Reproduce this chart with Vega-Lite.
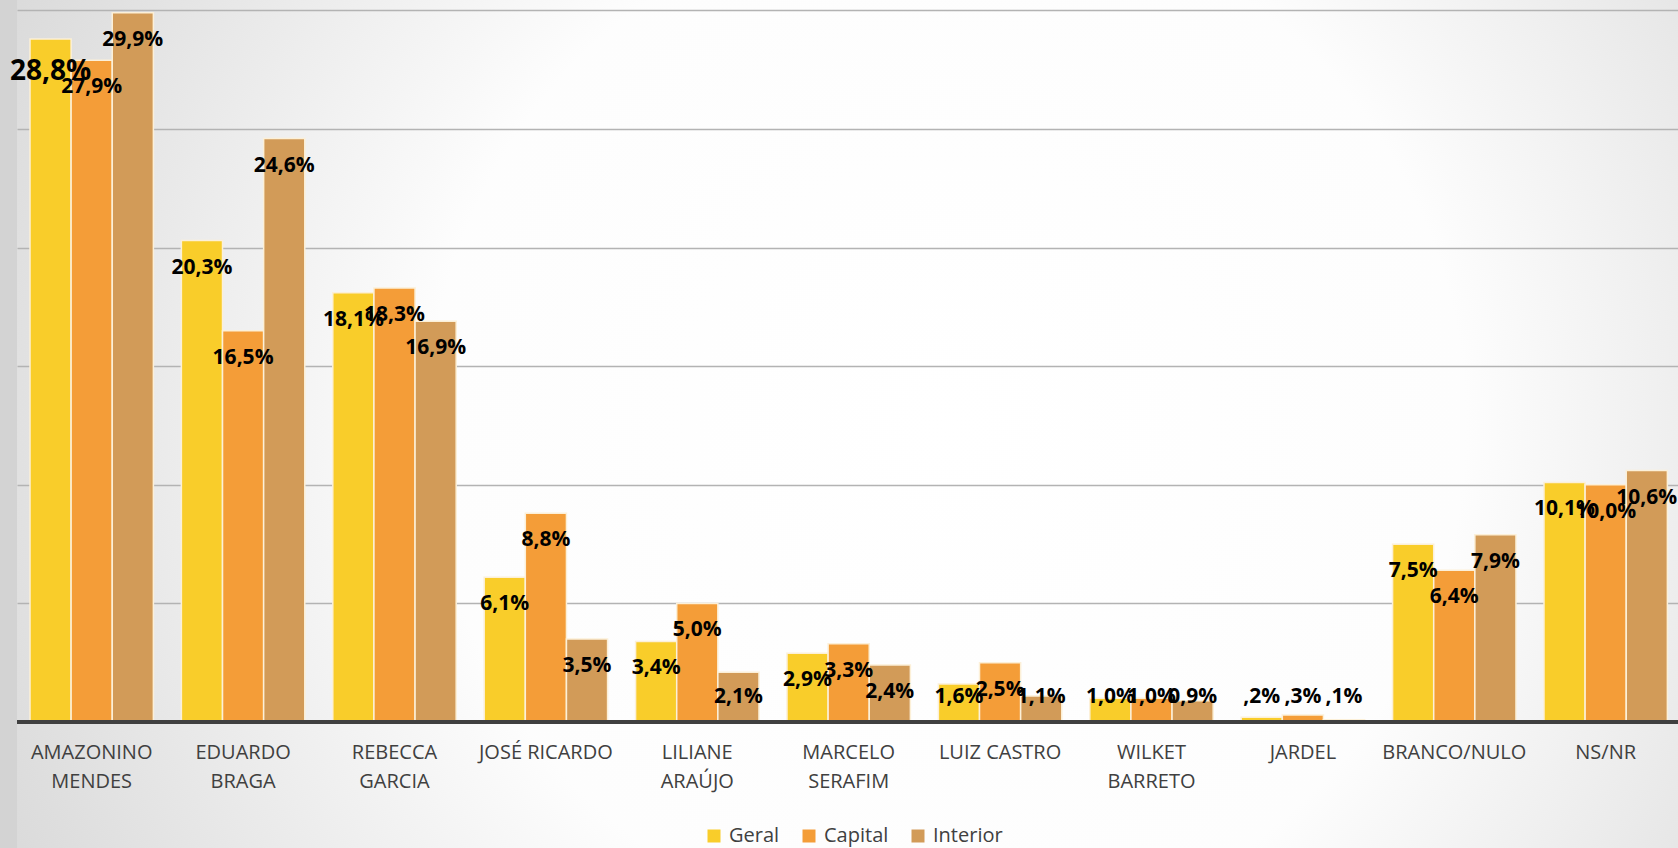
{
  "$schema": "https://vega.github.io/schema/vega-lite/v6.json",
  "width": 1661,
  "height": 848,
  "autosize": {"type": "none"},
  "padding": {"left": 17, "top": 0, "right": 0, "bottom": 0},
  "background": "#d3d3d3",
  "config": {
    "view": {
      "stroke": null,
      "fill": {
        "gradient": "radial",
        "x1": 0.56, "y1": 0.5, "r1": 0,
        "x2": 0.56, "y2": 0.5, "r2": 0.78,
        "stops": [
          {"offset": 0, "color": "#ffffff"},
          {"offset": 0.4, "color": "#fdfdfd"},
          {"offset": 0.75, "color": "#dedede"},
          {"offset": 1, "color": "#c9c9c9"}
        ]
      }
    },
    "axisY": {"minExtent": 0},
    "axisX": {"minExtent": 0},
    "font": "Open Sans"
  },
  "data": {
    "values": [
      {"c": "AMAZONINO MENDES", "s": "Geral", "v": 28.8, "label": "28,8%"},
      {"c": "AMAZONINO MENDES", "s": "Capital", "v": 27.9, "label": "27,9%"},
      {"c": "AMAZONINO MENDES", "s": "Interior", "v": 29.9, "label": "29,9%"},
      {"c": "EDUARDO BRAGA", "s": "Geral", "v": 20.3, "label": "20,3%"},
      {"c": "EDUARDO BRAGA", "s": "Capital", "v": 16.5, "label": "16,5%"},
      {"c": "EDUARDO BRAGA", "s": "Interior", "v": 24.6, "label": "24,6%"},
      {"c": "REBECCA GARCIA", "s": "Geral", "v": 18.1, "label": "18,1%"},
      {"c": "REBECCA GARCIA", "s": "Capital", "v": 18.3, "label": "18,3%"},
      {"c": "REBECCA GARCIA", "s": "Interior", "v": 16.9, "label": "16,9%"},
      {"c": "JOSÉ RICARDO", "s": "Geral", "v": 6.1, "label": "6,1%"},
      {"c": "JOSÉ RICARDO", "s": "Capital", "v": 8.8, "label": "8,8%"},
      {"c": "JOSÉ RICARDO", "s": "Interior", "v": 3.5, "label": "3,5%"},
      {"c": "LILIANE ARAÚJO", "s": "Geral", "v": 3.4, "label": "3,4%"},
      {"c": "LILIANE ARAÚJO", "s": "Capital", "v": 5.0, "label": "5,0%"},
      {"c": "LILIANE ARAÚJO", "s": "Interior", "v": 2.1, "label": "2,1%"},
      {"c": "MARCELO SERAFIM", "s": "Geral", "v": 2.9, "label": "2,9%"},
      {"c": "MARCELO SERAFIM", "s": "Capital", "v": 3.3, "label": "3,3%"},
      {"c": "MARCELO SERAFIM", "s": "Interior", "v": 2.4, "label": "2,4%"},
      {"c": "LUIZ CASTRO", "s": "Geral", "v": 1.6, "label": "1,6%"},
      {"c": "LUIZ CASTRO", "s": "Capital", "v": 2.5, "label": "2,5%"},
      {"c": "LUIZ CASTRO", "s": "Interior", "v": 1.1, "label": "1,1%"},
      {"c": "WILKET BARRETO", "s": "Geral", "v": 1.0, "label": "1,0%"},
      {"c": "WILKET BARRETO", "s": "Capital", "v": 1.0, "label": "1,0%"},
      {"c": "WILKET BARRETO", "s": "Interior", "v": 0.9, "label": "0,9%"},
      {"c": "JARDEL", "s": "Geral", "v": 0.2, "label": ",2%"},
      {"c": "JARDEL", "s": "Capital", "v": 0.3, "label": ",3%"},
      {"c": "JARDEL", "s": "Interior", "v": 0.1, "label": ",1%"},
      {"c": "BRANCO/NULO", "s": "Geral", "v": 7.5, "label": "7,5%"},
      {"c": "BRANCO/NULO", "s": "Capital", "v": 6.4, "label": "6,4%"},
      {"c": "BRANCO/NULO", "s": "Interior", "v": 7.9, "label": "7,9%"},
      {"c": "NS/NR", "s": "Geral", "v": 10.1, "label": "10,1%"},
      {"c": "NS/NR", "s": "Capital", "v": 10.0, "label": "10,0%"},
      {"c": "NS/NR", "s": "Interior", "v": 10.6, "label": "10,6%"}
    ]
  },
  "layer": [
    {
      "mark": {"type": "bar", "stroke": "#fcf0d8", "strokeWidth": 1.5},
      "encoding": {
        "x": {
          "field": "c", "type": "nominal", "sort": null, "title": null,
          "scale": {"paddingInner": 0.185, "paddingOuter": 0.078, "align": 0.55},
          "axis": {
            "orient": "bottom", "offset": -106, "labelPadding": 0, "ticks": false, "domain": false, "grid": false,
            "labelFont": "Open Sans", "labelFontSize": 20, "labelColor": "#404040",
            "labelLineHeight": 29, "labelBaseline": "top", "labelAngle": 0, "labelOverlap": false, "labelLimit": 300,
            "labelExpr": "datum.label == 'JOSÉ RICARDO' || datum.label == 'LUIZ CASTRO' ? datum.label : split(datum.label, ' ')"
          }
        },
        "xOffset": {"field": "s", "type": "nominal", "sort": ["Geral", "Capital", "Interior"], "scale": {"paddingInner": 0, "paddingOuter": 0}},
        "y": {
          "field": "v", "type": "quantitative",
          "scale": {"domain": [-5.31, 30.44], "nice": false},
          "axis": {"title": null, "labels": false, "ticks": false, "domain": false, "grid": true, "gridColor": "#b3b3b3", "gridWidth": 1.5, "values": [5, 10, 15, 20, 25, 30]}
        },
        "color": {
          "field": "s", "type": "nominal",
          "scale": {"domain": ["Geral", "Capital", "Interior"], "range": ["#F9CD2A", "#F49D38", "#D29B58"]},
          "legend": {
            "title": null, "orient": "none", "direction": "horizontal", "legendX": 687, "legendY": 826,
            "symbolType": "square", "symbolSize": 169, "symbolStrokeWidth": 0,
            "labelFont": "Open Sans", "labelFontSize": 20, "labelColor": "#404040",
            "columnPadding": 19, "labelOffset": 5, "padding": 0
          }
        }
      }
    },
    {
      "data": {"values": [{"k": 1}]},
      "mark": {"type": "rule", "color": "#404040", "strokeWidth": 4},
      "encoding": {
        "y": {
          "datum": 0, "type": "quantitative",
          "scale": {"domain": [-5.31, 30.44], "nice": false},
          "axis": {"title": null, "labels": false, "ticks": false, "domain": false, "grid": true, "gridColor": "#b3b3b3", "gridWidth": 1.5, "values": [5, 10, 15, 20, 25, 30]}
        }
      }
    },
    {
      "transform": [{"filter": "datum.v >= 2.2 && !(datum.s === 'Geral' && datum.c === 'AMAZONINO MENDES')"}],
      "mark": {"type": "text", "fontWeight": "bold", "font": "Open Sans", "fontSize": 21, "color": "#000000", "dy": 27, "baseline": "middle"},
      "encoding": {
        "x": {"field": "c", "type": "nominal", "sort": null, "title": null},
        "xOffset": {"field": "s", "type": "nominal", "sort": ["Geral", "Capital", "Interior"]},
        "y": {
          "field": "v", "type": "quantitative",
          "scale": {"domain": [-5.31, 30.44], "nice": false},
          "axis": {"title": null, "labels": false, "ticks": false, "domain": false, "grid": true, "gridColor": "#b3b3b3", "gridWidth": 1.5, "values": [5, 10, 15, 20, 25, 30]}
        },
        "text": {"field": "label", "type": "nominal"}
      }
    },
    {
      "transform": [{"filter": "datum.s === 'Geral' && datum.c === 'AMAZONINO MENDES'"}],
      "mark": {"type": "text", "fontWeight": "bold", "font": "Open Sans", "fontSize": 28, "color": "#000000", "dy": 33, "baseline": "middle"},
      "encoding": {
        "x": {"field": "c", "type": "nominal", "sort": null, "title": null},
        "xOffset": {"field": "s", "type": "nominal", "sort": ["Geral", "Capital", "Interior"]},
        "y": {
          "field": "v", "type": "quantitative",
          "scale": {"domain": [-5.31, 30.44], "nice": false},
          "axis": {"title": null, "labels": false, "ticks": false, "domain": false, "grid": true, "gridColor": "#b3b3b3", "gridWidth": 1.5, "values": [5, 10, 15, 20, 25, 30]}
        },
        "text": {"field": "label", "type": "nominal"}
      }
    },
    {
      "transform": [{"filter": "datum.v < 2.2"}],
      "mark": {"type": "text", "fontWeight": "bold", "font": "Open Sans", "fontSize": 21, "color": "#000000", "dy": -25.5, "baseline": "middle"},
      "encoding": {
        "x": {"field": "c", "type": "nominal", "sort": null, "title": null},
        "xOffset": {"field": "s", "type": "nominal", "sort": ["Geral", "Capital", "Interior"]},
        "y": {
          "datum": 0, "type": "quantitative",
          "scale": {"domain": [-5.31, 30.44], "nice": false},
          "axis": {"title": null, "labels": false, "ticks": false, "domain": false, "grid": true, "gridColor": "#b3b3b3", "gridWidth": 1.5, "values": [5, 10, 15, 20, 25, 30]}
        },
        "text": {"field": "label", "type": "nominal"}
      }
    }
  ]
}
